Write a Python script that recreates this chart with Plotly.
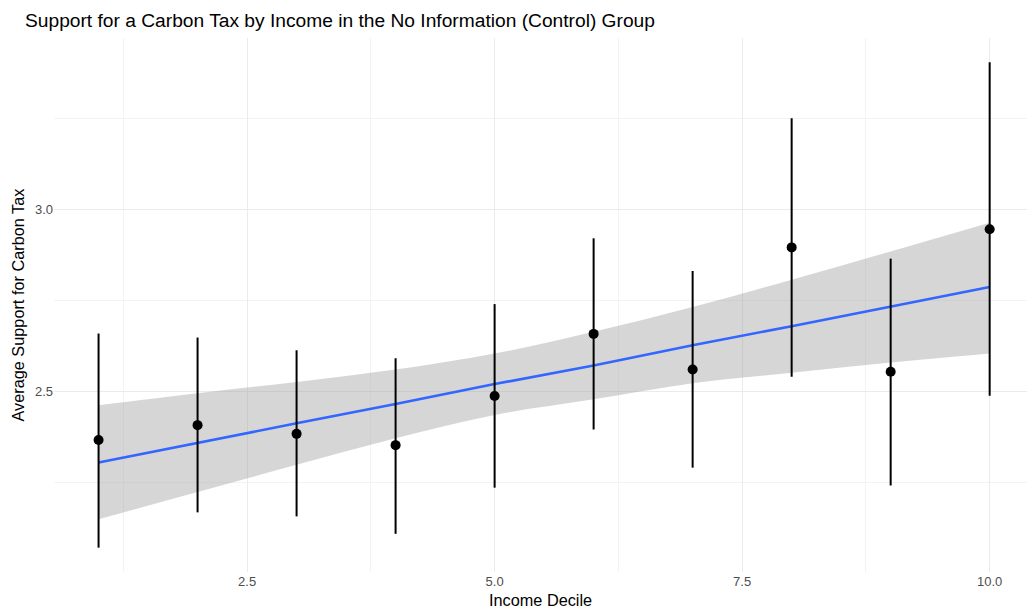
import plotly.graph_objects as go

# Mean support for a carbon tax by income decile, with 95% intervals
deciles = [1, 2, 3, 4, 5, 6, 7, 8, 9, 10]
mean_support = [2.366, 2.407, 2.383, 2.352, 2.487, 2.658, 2.560, 2.896, 2.554, 2.946]
ci_lower = [2.070, 2.167, 2.156, 2.108, 2.235, 2.395, 2.290, 2.540, 2.241, 2.488]
ci_upper = [2.659, 2.648, 2.613, 2.591, 2.740, 2.921, 2.831, 3.251, 2.865, 3.405]

# Linear trend (lm smoother) and its confidence band
fit_x = [1, 2, 3, 4, 5, 6, 7, 8, 9, 10]
fit_y = [2.304, 2.359, 2.412, 2.465, 2.520, 2.571, 2.627, 2.679, 2.732, 2.787]
fit_lower = [2.148, 2.223, 2.298, 2.371, 2.435, 2.478, 2.522, 2.551, 2.579, 2.604]
fit_upper = [2.462, 2.495, 2.526, 2.560, 2.604, 2.664, 2.732, 2.807, 2.885, 2.964]

x_ticks = [2.5, 5.0, 7.5, 10.0]
x_tick_labels = ["2.5", "5.0", "7.5", "10.0"]
y_ticks = [2.5, 3.0]
y_tick_labels = ["2.5", "3.0"]

W, H = 1027, 608
FONT = "Liberation Sans, Arial, Helvetica, sans-serif"

fig = go.Figure()

# confidence band
fig.add_trace(go.Scatter(
    x=fit_x, y=fit_upper, mode="lines", line=dict(width=0, shape="spline"),
    hoverinfo="skip", showlegend=False))
fig.add_trace(go.Scatter(
    x=fit_x, y=fit_lower, mode="lines", line=dict(width=0, shape="spline"),
    fill="tonexty", fillcolor="rgba(153,153,153,0.4)",
    hoverinfo="skip", showlegend=False))

# fitted line
fig.add_trace(go.Scatter(
    x=fit_x, y=fit_y, mode="lines", line=dict(color="#3366FF", width=2.6),
    showlegend=False))

# decile means with interval bars
err_plus = [u - m for u, m in zip(ci_upper, mean_support)]
err_minus = [m - l for m, l in zip(mean_support, ci_lower)]
fig.add_trace(go.Scatter(
    x=deciles, y=mean_support, mode="markers",
    marker=dict(color="black", size=10),
    error_y=dict(type="data", symmetric=False, array=err_plus,
                 arrayminus=err_minus, color="black", thickness=2, width=0),
    showlegend=False))

fig.update_layout(
    width=W, height=H,
    margin=dict(l=53.5, r=0, t=37.5, b=35.8),
    paper_bgcolor="white", plot_bgcolor="white",
    font=dict(family=FONT, color="black"),
    xaxis=dict(
        range=[0.55, 10.377], tickvals=x_ticks, ticktext=x_tick_labels,
        showgrid=True, gridcolor="#EBEBEB", gridwidth=1,
        zeroline=False, showline=False, ticks="",
        tickfont=dict(size=13, color="#4D4D4D"),
        minor=dict(tickvals=[1.25, 3.75, 6.25, 8.75], showgrid=True,
                   gridcolor="#F3F3F3", gridwidth=1),
    ),
    yaxis=dict(
        range=[2.003, 3.472], tickvals=y_ticks, ticktext=y_tick_labels,
        showgrid=True, gridcolor="#EBEBEB", gridwidth=1,
        zeroline=False, showline=False, ticks="",
        tickfont=dict(size=13, color="#4D4D4D"),
        minor=dict(tickvals=[2.25, 2.75, 3.25], showgrid=True,
                   gridcolor="#F3F3F3", gridwidth=1),
    ),
    annotations=[
        dict(text="Support for a Carbon Tax by Income in the No Information (Control) Group",
             xref="paper", yref="paper", x=0, y=1, xshift=-31.5, yshift=17.5,
             xanchor="left", yanchor="middle", showarrow=False,
             font=dict(size=19.2, color="black")),
        dict(text="Income Decile", xref="paper", yref="paper", x=0.5, y=0,
             xanchor="center", yanchor="middle", yshift=-28, showarrow=False,
             font=dict(size=16.3, color="black")),
        dict(text="Average Support for Carbon Tax", xref="paper", yref="paper",
             x=0, y=0.5, xanchor="center", yanchor="middle", xshift=-36.5,
             textangle=-90, showarrow=False, font=dict(size=16.3, color="black")),
    ],
)

fig.write_html("out.html")
